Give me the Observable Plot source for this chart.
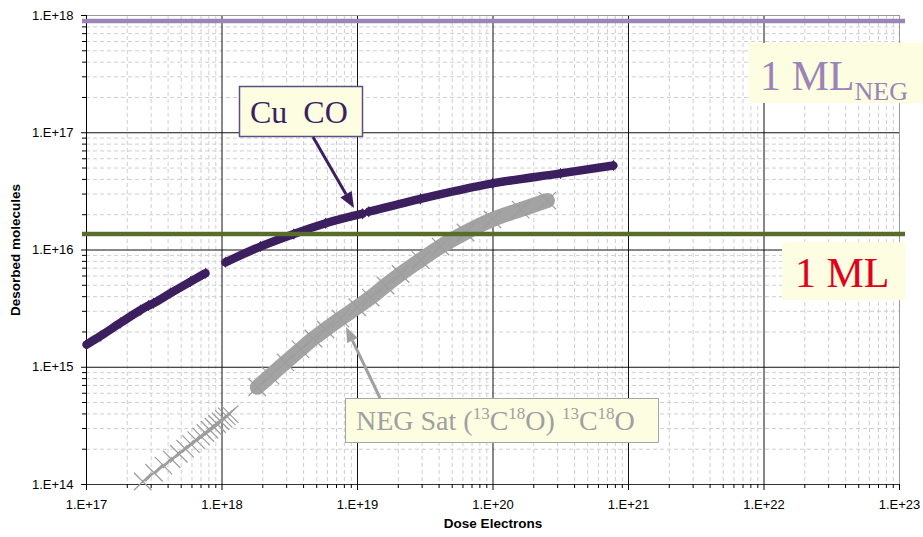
<!DOCTYPE html>
<html><head><meta charset="utf-8">
<script src="https://cdn.jsdelivr.net/npm/d3@7"></script>
<script src="https://cdn.jsdelivr.net/npm/@observablehq/plot@0.6"></script>
<style>
body{margin:0;background:#fff;}
#wrap{width:923px;height:537px;overflow:hidden;}
</style></head><body><div id="wrap"></div>
<script>
// Axis ticks
const xMajor = [1e17, 1e18, 1e19, 1e20, 1e21, 1e22, 1e23];
const xTickLabels = ["1.E+17", "1.E+18", "1.E+19", "1.E+20", "1.E+21", "1.E+22", "1.E+23"];
const yMajor = [1e14, 1e15, 1e16, 1e17, 1e18];
const yTickLabels = ["1.E+14", "1.E+15", "1.E+16", "1.E+17", "1.E+18"];
const minorMultipliers = [2, 3, 4, 5, 6, 7, 8, 9];

// Cu CO series (three segments)
const cuDose1 = [1.0e17, 1.27e17, 1.78e17, 2.51e17, 2.87e17, 3.12e17, 4.17e17, 5.86e17, 7.56e17];
const cuMol1  = [1.56e15, 1.85e15, 2.39e15, 3.08e15, 3.36e15, 3.52e15, 4.29e15, 5.38e15, 6.34e15];
const cuDose2 = [1.06e18, 1.92e18, 3.39e18, 5.81e18, 1.09e19];
const cuMol2  = [7.85e15, 1.07e16, 1.37e16, 1.69e16, 2.04e16];
const cuDose3 = [1.21e19, 2.92e19, 9.91e19, 3.15e20, 7.74e20];
const cuMol3  = [2.12e16, 2.73e16, 3.70e16, 4.50e16, 5.25e16];

// NEG Sat (13C18O) series (two segments)
const negDose1 = [2.6e17, 3.15e17, 3.7e17, 4.25e17, 4.8e17, 5.35e17, 5.9e17, 6.45e17, 7.0e17, 7.55e17, 8.1e17, 8.65e17, 9.2e17, 9.75e17, 1.03e18, 1.085e18, 1.14e18];
const negMol1  = [1.06e14, 1.26e14, 1.45e14, 1.64e14, 1.83e14, 2.02e14, 2.21e14, 2.39e14, 2.57e14, 2.75e14, 2.93e14, 3.11e14, 3.28e14, 3.46e14, 3.63e14, 3.81e14, 3.98e14];
const negDose2 = [1.82e18, 2.28e18, 2.94e18, 3.80e18, 4.73e18, 5.81e18, 7.49e18, 9.96e18, 1.25e19, 1.61e19, 2.08e19, 2.92e19, 4.10e19, 6.27e19, 9.91e19, 1.60e20, 2.52e20];
const negMol2  = [6.75e14, 8.49e14, 1.10e15, 1.42e15, 1.76e15, 2.10e15, 2.60e15, 3.25e15, 3.93e15, 4.98e15, 6.24e15, 8.21e15, 1.07e16, 1.41e16, 1.82e16, 2.21e16, 2.64e16];

// Reference levels
const mlNeg = 8.98e17;
const ml1 = 1.37e16;

const minorOf = majors => majors.slice(0, -1).flatMap(m => minorMultipliers.map(k => k * m));
const xMinor = minorOf(xMajor);
const yMinor = minorOf(yMajor);

const seg = (xs, ys, s) => xs.map((x, i) => ({dose: x, mol: ys[i], seg: s}));
const cuAll = [...seg(cuDose1, cuMol1, 1), ...seg(cuDose2, cuMol2, 2), ...seg(cuDose3, cuMol3, 3)];
const neg1 = seg(negDose1, negMol1, 1);
const neg2 = seg(negDose2, negMol2, 2);

const cuColor = "#3b1f5e";
const negColor = "#a3a3a3";

const chart = Plot.plot({
  width: 923, height: 537,
  marginLeft: 86, marginRight: 24, marginTop: 15, marginBottom: 53,
  x: {type: "log", domain: [1e17, 1e23]},
  y: {type: "log", domain: [1e14, 1e18]},
  style: {fontFamily: "'Liberation Sans', Arial, sans-serif", fontSize: "13px", background: "#fff", color: "#000"},
  marks: [
    Plot.gridX(xMinor, {stroke: "#cfcfcf", strokeOpacity: 1, strokeDasharray: "4,3"}),
    Plot.gridY(yMinor, {stroke: "#cfcfcf", strokeOpacity: 1, strokeDasharray: "4,3"}),
    Plot.gridX(xMajor.slice(1, -1), {stroke: "#111", strokeOpacity: 1}),
    Plot.gridY(yMajor.slice(1, -1), {stroke: "#111", strokeOpacity: 1}),
    Plot.ruleY([1e18], {stroke: "#999"}),
    Plot.ruleX([1e23], {stroke: "#999"}),
    Plot.ruleX([1e17], {stroke: "#000"}),
    Plot.ruleY([1e14], {stroke: "#333"}),
    Plot.axisX(xMinor, {tickSize: 4, tickFormat: () => "", label: null}),
    Plot.axisY(yMinor, {tickSize: 4, tickFormat: () => "", label: null}),
    Plot.axisX(xMajor, {tickSize: 6, tickPadding: 9, tickFormat: d => xTickLabels[xMajor.indexOf(d)], label: null}),
    Plot.axisY(yMajor, {tickSize: 5, tickPadding: 8, tickFormat: d => yTickLabels[yMajor.indexOf(d)], label: null}),
    Plot.text(["Dose Electrons"], {frameAnchor: "bottom", dy: 43, fontWeight: "bold", fontSize: 13.5}),
    Plot.text(["Desorbed molecules"], {frameAnchor: "left", dx: -71, rotate: -90, textAnchor: "middle", fontWeight: "bold", fontSize: 13.5}),
    // NEG series
    Plot.line(neg1, {x: "dose", y: "mol", stroke: negColor, strokeWidth: 2}),
    Plot.line(neg2, {x: "dose", y: "mol", stroke: negColor, strokeWidth: 15, strokeLinecap: "round", strokeLinejoin: "round", curve: "monotone-x"}),
    Plot.dot([...neg1, ...neg2], {x: "dose", y: "mol", symbol: "times", r: 8, stroke: "#9d9d9d", strokeWidth: 1.2}),
    // Cu CO series
    Plot.line(cuAll, {x: "dose", y: "mol", z: "seg", stroke: cuColor, strokeWidth: 8.5, strokeLinecap: "round", strokeLinejoin: "round", curve: "monotone-x"}),
    Plot.dot(cuAll, {x: "dose", y: "mol", symbol: "diamond", r: 3.5, fill: cuColor}),
    // Monolayer levels
    Plot.ruleY([mlNeg], {stroke: "#9b84b9", strokeWidth: 4.5, insetLeft: -4, insetRight: -6}),
    Plot.ruleY([ml1], {stroke: "#586c2c", strokeWidth: 4.5, insetLeft: -4, insetRight: -6})
  ]
});
document.getElementById("wrap").appendChild(chart);

// Annotations
const svg = d3.select(chart);
const g = svg.append("g").attr("font-family", "'Liberation Serif','Times New Roman',serif").attr("text-anchor", "start");
const boxFill = "#fdfde2";

function arrow(x1, y1, x2, y2, color, w, hl, hw) {
  const a = Math.atan2(y2 - y1, x2 - x1);
  const bx = x2 - hl * Math.cos(a), by = y2 - hl * Math.sin(a);
  g.append("line").attr("x1", x1).attr("y1", y1).attr("x2", bx).attr("y2", by)
    .attr("stroke", color).attr("stroke-width", w);
  const px = Math.sin(a) * hw / 2, py = -Math.cos(a) * hw / 2;
  g.append("path").attr("d", `M${x2},${y2}L${bx + px},${by + py}L${bx - px},${by - py}Z`).attr("fill", color);
}

// Cu CO
g.append("rect").attr("x", 239.5).attr("y", 86.5).attr("width", 123).attr("height", 50)
  .attr("fill", boxFill).attr("stroke", "#5e4d86").attr("stroke-width", 1.5);
g.append("text").attr("x", 250).attr("y", 123).attr("font-size", 32).attr("fill", cuColor)
  .style("white-space", "pre").text("Cu  CO");
arrow(313, 137, 354, 208, cuColor, 3, 16, 13);

// NEG Sat
g.append("rect").attr("x", 345.5).attr("y", 398.5).attr("width", 313).attr("height", 44)
  .attr("fill", boxFill).attr("stroke", "#a6a6a6").attr("stroke-width", 1);
const t = g.append("text").attr("x", 356).attr("y", 430).attr("font-size", 28).attr("fill", "#a0a0a0").style("white-space", "pre");
const parts = [["NEG Sat (", 0], ["13", 1], ["C", 0], ["18", 1], ["O) ", 0], ["13", 1], ["C", 0], ["18", 1], ["O", 0]];
let prevSup = 0;
parts.forEach(([s, sup]) => {
  const dy = (sup ? -11 : 0) - (prevSup ? -11 : 0);
  t.append("tspan").attr("dy", dy).attr("font-size", sup ? 17 : 28).text(s);
  prevSup = sup;
});
arrow(380, 398, 346, 327, "#a0a0a0", 3, 15, 12);

// 1 ML_NEG
g.append("rect").attr("x", 749).attr("y", 43).attr("width", 174).attr("height", 60).attr("fill", boxFill);
const t2 = g.append("text").attr("x", 760).attr("y", 90).attr("font-size", 42).attr("fill", "#9a84b8").style("white-space", "pre");
t2.append("tspan").text("1 ML");
t2.append("tspan").attr("dy", 10).attr("font-size", 26).text("NEG");

// 1 ML
g.append("rect").attr("x", 782).attr("y", 242).attr("width", 123).attr("height", 58).attr("fill", boxFill);
g.append("text").attr("x", 795).attr("y", 287).attr("font-size", 42).attr("fill", "#e2001a").style("white-space", "pre").text("1 ML");
</script></body></html>
